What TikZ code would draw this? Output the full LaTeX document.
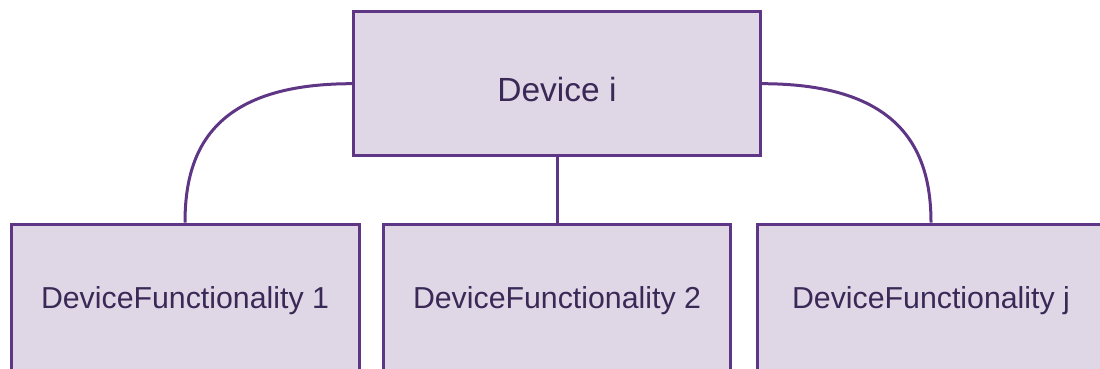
\documentclass[tikz,border=0pt]{standalone}
\usepackage{fontspec}
\setmainfont{Liberation Sans}
\definecolor{boxfill}{HTML}{DFD7E6}
\definecolor{boxline}{HTML}{5F3585}
\definecolor{boxtext}{HTML}{3A2856}
\begin{document}
\begin{tikzpicture}[x=1pt,y=-1pt,
  box/.style={draw=boxline,fill=boxfill,line width=3pt,rectangle,inner sep=0pt,text=boxtext},
  topbox/.style={box,minimum height=144pt,minimum width=407pt,
    font=\fontsize{33.5}{36}\selectfont,text height=36pt,text depth=0pt},
  subbox/.style={box,minimum height=152pt,minimum width=348pt,
    font=\fontsize{30.3}{34}\selectfont,text height=21.5pt,text depth=4pt},
  link/.style={draw=boxline,line width=3pt}]
\useasboundingbox (0,0) rectangle (1100,368);
\node[topbox] (top) at (557,83.7) {Device i};
\node[subbox] (b1) at (185,300) {DeviceFunctionality 1};
\node[subbox,minimum width=347pt] (b2) at (557,300) {DeviceFunctionality 2};
\node[subbox] (b3) at (931,300) {DeviceFunctionality j};
\draw[link] (top.west) .. controls +(-139,0) and +(0,-72) .. (b1.north);
\draw[link] (top.east) .. controls +(139,0) and +(0,-72) .. (b3.north);
\draw[link] (top.south) -- (b2.north);
\end{tikzpicture}
\end{document}
